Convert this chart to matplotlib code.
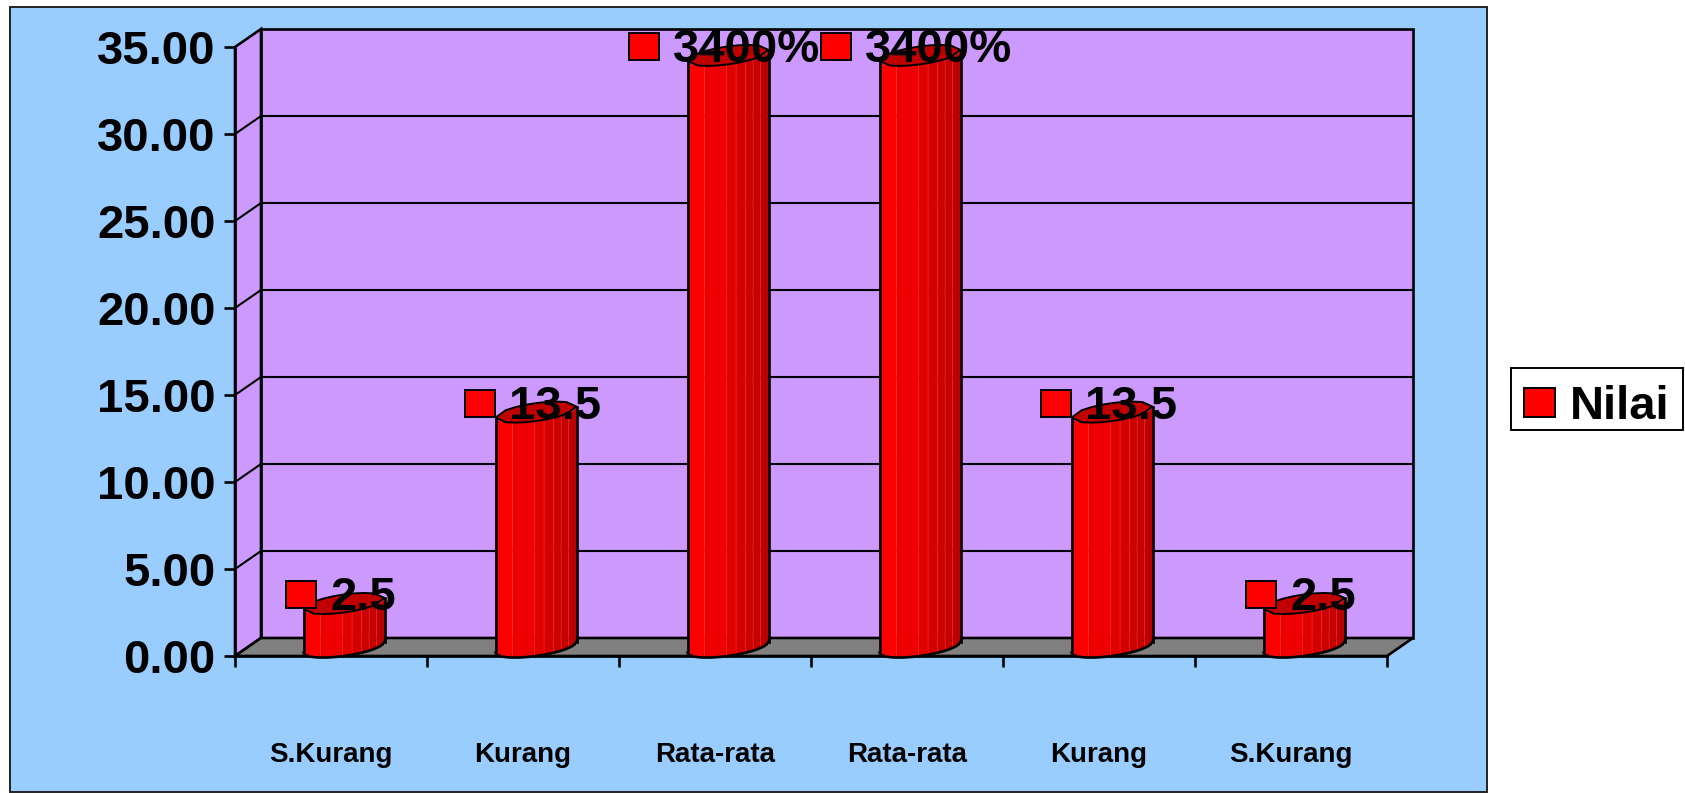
import numpy as np
import matplotlib
matplotlib.use('Agg')
import matplotlib.pyplot as plt
from matplotlib.patches import Rectangle, Polygon, Patch

plt.rcParams['font.family'] = ['Liberation Sans', 'DejaVu Sans']
plt.rcParams['font.weight'] = 'bold'

categories = ['S.Kurang', 'Kurang', 'Rata-rata', 'Rata-rata', 'Kurang', 'S.Kurang']
values = [2.5, 13.5, 34, 34, 13.5, 2.5]
value_labels = ['2.5', '13.5', '3400%', '3400%', '13.5', '2.5']
y_ticks = [0, 5, 10, 15, 20, 25, 30, 35]

W, H = 1685, 793
RED = '#ff0000'
# facet edges across the cylinder (0 = left, 1 = right) and their shades
facet_edges = [0, .21, .48, .60, .72, .81, .90, 1]
facet_shades = ['#ff0000', '#ee0000', '#e00000', '#d40000', '#cc0000', '#c40000', '#bc0000']

fig = plt.figure(figsize=(W / 100, H / 100), dpi=100)
fig.patch.set_facecolor('white')

# chart area
fig.add_artist(Rectangle((10 / W, 1 - 792 / H), 1477 / W, 785 / H, transform=fig.transFigure,
                         facecolor='#99ccff', edgecolor='#222222', linewidth=1.4, zorder=-1))
# legend box
fig.add_artist(Rectangle((1511 / W, 1 - 430 / H), 172 / W, 62 / H, transform=fig.transFigure,
                         facecolor='white', edgecolor='black', linewidth=1.4, zorder=-1))

# axes sit on the front plane of the 3d box
ax = fig.add_axes([235 / W, 1 - 656 / H, (1387 - 235) / W, (656 - 47) / H])
ax.set_xlim(0, 6)
ax.set_ylim(0, 35)
ax.patch.set_alpha(0)

px_x = 6 / (1387 - 235)   # one pixel in x units
px_y = 35 / (656 - 47)    # one pixel in y units
dx = 26 * px_x
dy = 18 * px_y
LW = 1.9

# walls and floor
ax.add_patch(Polygon([(dx, dy), (6 + dx, dy), (6 + dx, 35 + dy), (dx, 35 + dy)], facecolor='#cc99ff',
                     edgecolor='black', linewidth=LW, clip_on=False, zorder=1))
ax.add_patch(Polygon([(0, 0), (dx, dy), (dx, 35 + dy), (0, 35)], facecolor='#cc99ff',
                     edgecolor='black', linewidth=LW, clip_on=False, zorder=1))
ax.add_patch(Polygon([(0, 0), (6, 0), (6 + dx, dy), (dx, dy)], facecolor='#808080',
                     edgecolor='black', linewidth=LW, clip_on=False, zorder=1))
for t in y_ticks[1:-1]:
    ax.plot([0, dx, 6 + dx], [t, t + dy, t + dy], color='black', lw=1.5, clip_on=False, zorder=2)

# cylinders
a = 40.5 * px_x
b = 9 * px_y
s = 5.5 * px_y


def front_y(u, c):
    return c + s * u - b * np.sqrt(1 - u ** 2)


def back_y(u, c):
    return c + s * u + b * np.sqrt(1 - u ** 2)


for i, v in enumerate(values):
    cx = i + 0.5 + dx / 2
    c0 = dy / 2
    c1 = v + dy / 2
    for f1, f2, col in zip(facet_edges[:-1], facet_edges[1:], facet_shades):
        u = 2 * np.linspace(f1, f2, 5) - 1
        xs = cx + a * u
        pts = list(zip(xs, front_y(u, c1))) + list(zip(xs[::-1], front_y(u[::-1], c0)))
        ax.add_patch(Polygon(pts, facecolor=col, edgecolor='#ff3030', linewidth=0.3, clip_on=False, zorder=3))
    u = np.linspace(-1, 1, 41)
    ax.plot(cx + a * u, front_y(u, c0), color='black', lw=LW, clip_on=False, zorder=4)
    ax.plot([cx - a, cx - a], [front_y(-1, c0), front_y(-1, c1)], color='black', lw=LW, zorder=4, clip_on=False)
    ax.plot([cx + a, cx + a], [front_y(1, c0), front_y(1, c1)], color='black', lw=LW, zorder=4, clip_on=False)
    # top cap
    u = np.linspace(-1, 1, 9)
    cap = list(zip(cx + a * u, front_y(u, c1))) + list(zip(cx + a * u[::-1], back_y(u[::-1], c1)))
    ax.add_patch(Polygon(cap, facecolor='#c00000', edgecolor='black', linewidth=1.4, clip_on=False, zorder=4))

# data labels with legend key
fig.canvas.draw()
renderer = fig.canvas.get_renderer()
for i, (v, lab) in enumerate(zip(values, value_labels)):
    cx = i + 0.5 + dx / 2
    y = v + dy / 2 + 9 * px_y
    txt = ax.text(cx + 19 * px_x, y - 3.5 * px_y, lab, fontsize=34, ha='center', va='center', color='black',
                  zorder=6, clip_on=False)
    box = txt.get_window_extent(renderer)
    left = ax.transData.inverted().transform((box.x0, box.y0))[0]
    ax.add_patch(Rectangle((left - 44 * px_x, y - 13.5 * px_y), 30 * px_x, 27 * px_y, facecolor=RED,
                           edgecolor='black', linewidth=1.4, clip_on=False, zorder=5))

# axes, ticks
for side in ['top', 'right']:
    ax.spines[side].set_visible(False)
for side in ['left', 'bottom']:
    ax.spines[side].set_linewidth(LW)
    ax.spines[side].set_zorder(2)
ax.set_yticks(y_ticks)
ax.set_yticklabels(['%.2f' % t for t in y_ticks], fontsize=34)
ax.tick_params(axis='y', length=8, width=LW, pad=6)
ax.set_xticks(range(7))
ax.set_xticklabels([])
ax.tick_params(axis='x', which='major', length=8, width=LW)
ax.set_xticks(np.arange(6) + 0.5, minor=True)
ax.set_xticklabels(categories, minor=True, fontsize=20)
ax.tick_params(axis='x', which='minor', length=0, pad=62)

handle = Patch(facecolor=RED, edgecolor='black', linewidth=1.4, label='Nilai')
leg = fig.legend(handles=[handle], loc='center', bbox_to_anchor=(1597 / W, 1 - 407 / H), fontsize=34,
                 frameon=False, handlelength=0.66, handleheight=0.56,
                 handletextpad=0.32, borderpad=0, borderaxespad=0)

fig.savefig('out.png', dpi=100)
